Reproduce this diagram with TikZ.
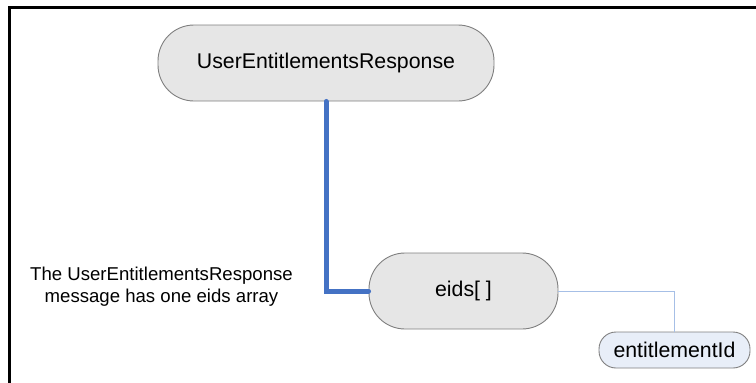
\documentclass[tikz,border=0pt]{standalone}
\usepackage{fontspec}
\setmainfont{Liberation Sans}
\definecolor{boxline}{HTML}{7F7F7F}
\definecolor{boxfill}{HTML}{E6E6E6}
\definecolor{leaffill}{HTML}{E8EEF8}
\definecolor{mainblue}{HTML}{4472C4}
\definecolor{thinblue}{HTML}{A6BFE6}
\begin{document}
\begin{tikzpicture}[x=1pt,y=-1pt,
  bigbox/.style={draw=boxline, line width=0.9pt, fill=boxfill, rounded corners=36pt,
    minimum height=76pt, inner sep=0pt, font=\fontsize{21.3}{25}\selectfont},
  leafbox/.style={draw=boxline, line width=0.9pt, fill=leaffill, rounded corners=17pt,
    minimum width=151pt, minimum height=36pt, inner sep=0pt, font=\fontsize{21.3}{25}\selectfont},
  mainconn/.style={draw=mainblue, line width=5pt, line cap=round},
  thinconn/.style={draw=thinblue, line width=1pt},
  note/.style={align=center, inner sep=0pt, font=\fontsize{18.6}{22}\selectfont}]
\useasboundingbox (0,0) rectangle (756,383);
\draw[line width=3pt] (9,385) -- (9,7) -- (758,7);
\node[bigbox, minimum width=336pt] (root) at (326,63) {UserEntitlementsResponse};
\node[bigbox, minimum width=189pt] (eids) at (463.5,291) {eids[ ]};
\node[leafbox] (ent) at (674.5,350) {entitlementId};
\node[note] (txt) at (161.5,286.5) {The UserEntitlementsResponse\\message has one eids array};
\draw[mainconn] (root.south) |- (eids.west);
\draw[thinconn] (eids.east) -| (ent.north);
\end{tikzpicture}
\end{document}
